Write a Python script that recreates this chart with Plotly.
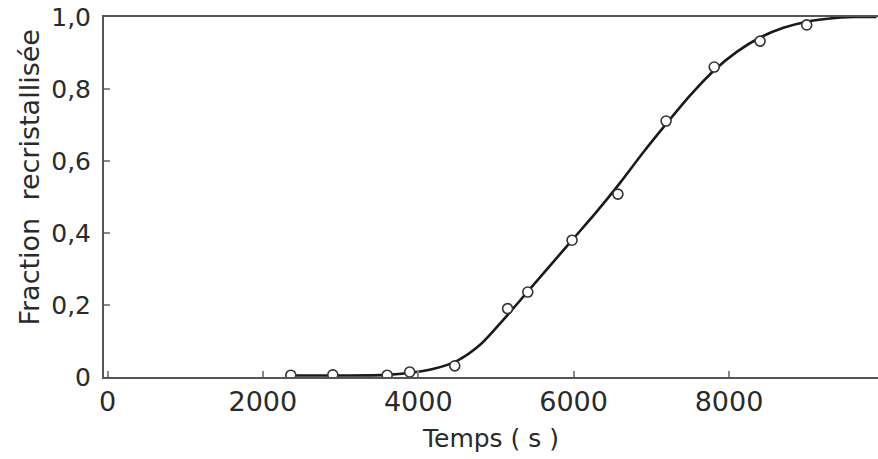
import plotly.graph_objects as go

# Measured points (time in s, recrystallised fraction)
t_points = [2360, 2900, 3600, 3890, 4470, 5150, 5410, 5980, 6570, 7190, 7810, 8400, 9000]
f_points = [0.005, 0.006, 0.005, 0.014, 0.031, 0.19, 0.236, 0.38, 0.508, 0.711, 0.861, 0.933, 0.978]

# Fitted curve
t_curve = [2360, 3000, 3600, 3900, 4200, 4500, 4800, 5100, 5400, 5700, 6000, 6300,
           6600, 6900, 7200, 7500, 7800, 8100, 8400, 8700, 9000, 9300, 9600, 9900]
f_curve = [0.004, 0.004, 0.006, 0.012, 0.023, 0.045, 0.09, 0.16, 0.235, 0.31, 0.385, 0.46,
           0.54, 0.625, 0.705, 0.782, 0.85, 0.903, 0.943, 0.97, 0.987, 0.996, 1.0, 1.0]

x_ticks = [0, 2000, 4000, 6000, 8000]
x_ticktext = ["0", "2000", "4000", "6000", "8000"]
y_ticks = [0, 0.2, 0.4, 0.6, 0.8, 1.0]
y_ticktext = ["0", "0,2", "0,4", "0,6", "0,8", "1,0"]

FONT = "DejaVu Sans"
INK = "#2a2a2a"

fig = go.Figure()
fig.add_trace(go.Scatter(x=t_curve, y=f_curve, mode="lines",
                         line=dict(color="#1a1a1a", width=2.6, shape="spline", smoothing=0.8),
                         showlegend=False, hoverinfo="skip"))
fig.add_trace(go.Scatter(x=t_points, y=f_points, mode="markers",
                         marker=dict(symbol="circle", size=10, color="white",
                                     line=dict(color="#333333", width=1.6)),
                         showlegend=False))

fig.update_layout(
    width=878, height=459,
    margin=dict(l=104, r=0, t=17, b=82, autoexpand=False),
    paper_bgcolor="white", plot_bgcolor="white",
    font=dict(family=FONT, color=INK),
    xaxis=dict(range=[-45, 9918], tickvals=x_ticks, ticktext=x_ticktext,
               automargin=False,
               showgrid=False, zeroline=False, showline=True, mirror=True,
               linecolor="#555555", linewidth=2,
               ticks="inside", ticklen=6, tickcolor="#888888", tickwidth=1.5,
               tickfont=dict(size=27, family=FONT, color=INK),
               title=dict(text="Temps ( s )", font=dict(size=25, family=FONT, color=INK),
                          standoff=13)),
    yaxis=dict(range=[0, 1.0], tickvals=y_ticks, ticktext=y_ticktext,
               automargin=False,
               showgrid=False, zeroline=False, showline=True, mirror=True,
               linecolor="#555555", linewidth=2,
               ticks="inside", ticklen=6, tickcolor="#888888", tickwidth=1.5,
               ticklabelstandoff=6,
               tickfont=dict(size=25, family=FONT, color=INK)),
    annotations=[dict(text="Fraction\u00a0\u00a0recristallisée", textangle=-90,
                      xref="paper", yref="paper", x=0, y=0.554, xshift=-74,
                      xanchor="center", yanchor="middle", showarrow=False,
                      font=dict(size=27, family=FONT, color=INK))],
)

fig.write_html("out.html",
               config={"displayModeBar": False},
               post_script="document.body.style.margin='0';document.body.style.overflow='hidden';")
